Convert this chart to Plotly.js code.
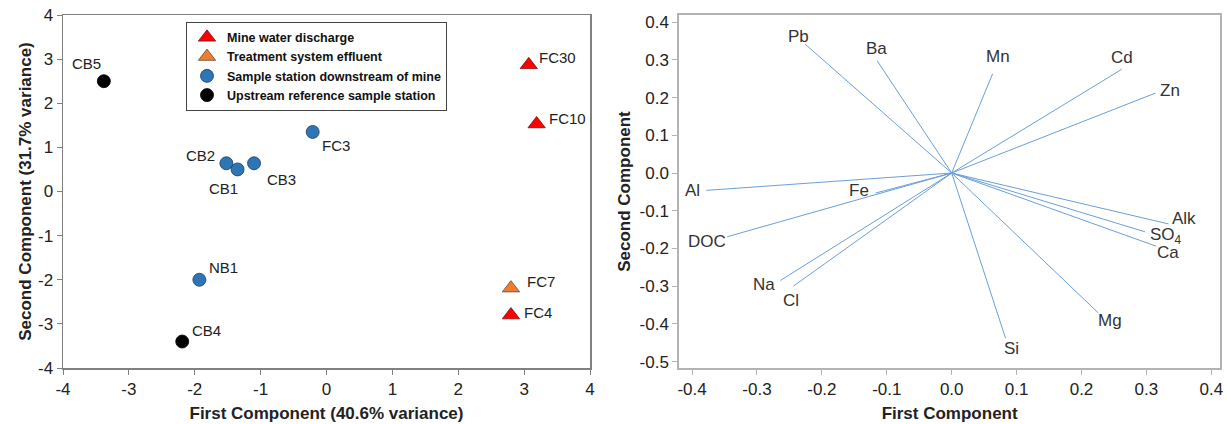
<!DOCTYPE html>
<html><head><meta charset="utf-8">
<script src="https://cdn.plot.ly/plotly-3.0.1.min.js"></script>
<style>html,body{margin:0;padding:0;background:#fff}#chart{width:1227px;height:424px}</style>
</head><body><div id="chart"></div>
<script>
// ---- Left panel: PCA scores ----
const groupNames = ['Mine water discharge', 'Treatment system effluent', 'Sample station downstream of mine', 'Upstream reference sample station'];
const mineNames = ['FC30', 'FC10', 'FC4'];
const mineX = [3.07, 3.19, 2.80];
const mineY = [2.87, 1.53, -2.80];
const effNames = ['FC7'];
const effX = [2.80];
const effY = [-2.19];
const downNames = ['CB2', 'CB1', 'CB3', 'FC3', 'NB1'];
const downX = [-1.52, -1.35, -1.10, -0.21, -1.93];
const downY = [0.64, 0.50, 0.64, 1.35, -2.00];
const upNames = ['CB5', 'CB4'];
const upX = [-3.38, -2.19];
const upY = [2.50, -3.40];

// ---- Right panel: loadings ----
const varNames = ['Pb', 'Ba', 'Mn', 'Cd', 'Zn', 'Al', 'Fe', 'DOC', 'Na', 'Cl', 'Alk', 'SO<sub>4</sub>', 'Ca', 'Mg', 'Si'];
const loadX = [-0.226, -0.115, 0.063, 0.262, 0.314, -0.378, -0.117, -0.346, -0.264, -0.244, 0.334, 0.298, 0.315, 0.226, 0.083];
const loadY = [0.342, 0.298, 0.263, 0.275, 0.212, -0.046, -0.053, -0.169, -0.285, -0.300, -0.135, -0.156, -0.194, -0.371, -0.438];

// ---- Tick labels ----
const leftTickVals = [-4, -3, -2, -1, 0, 1, 2, 3, 4];
const leftTickText = ['-4', '-3', '-2', '-1', '0', '1', '2', '3', '4'];
const rightXTickVals = [-0.4, -0.3, -0.2, -0.1, 0, 0.1, 0.2, 0.3, 0.4];
const rightXTickText = ['-0.4', '-0.3', '-0.2', '-0.1', '0.0', '0.1', '0.2', '0.3', '0.4'];
const rightYTickVals = [-0.5, -0.4, -0.3, -0.2, -0.1, 0, 0.1, 0.2, 0.3, 0.4];
const rightYTickText = ['-0.5', '-0.4', '-0.3', '-0.2', '-0.1', '0.0', '0.1', '0.2', '0.3', '0.4'];

// ---- styling (label offsets in px) ----
const FONT = 'Arial, "Liberation Sans", sans-serif';
const stationOffsets = {
  FC30: [29, 7], FC10: [31, 5], FC4: [27, 3], FC7: [30, 7],
  CB2: [-26, 8], CB1: [-14, -19], CB3: [27, -16], FC3: [23, -14], NB1: [24, 12],
  CB5: [-17, 18], CB4: [24, 11]
};
const varOffsets = {
  'Pb': [-7, 8], 'Ba': [-1, 12], 'Mn': [5, 17], 'Cd': [0, 12], 'Zn': [15, 3],
  'Al': [-14, 0], 'Fe': [-17, 3], 'DOC': [-20, -5], 'Na': [-16, -4], 'Cl': [-2, -14],
  'Alk': [16, 5], 'SO<sub>4</sub>': [21, -4], 'Ca': [12, -6], 'Mg': [12, -8], 'Si': [6, -10]
};

const traces = [
  {x: mineX, y: mineY, name: groupNames[0], mode: 'markers', type: 'scatter', xaxis: 'x', yaxis: 'y',
   marker: {symbol: 'triangle-up', size: 15, color: '#FF0000', line: {color: '#7a1010', width: 0.8}}},
  {x: effX, y: effY, name: groupNames[1], mode: 'markers', type: 'scatter', xaxis: 'x', yaxis: 'y',
   marker: {symbol: 'triangle-up', size: 15, color: '#ED7D31', line: {color: '#6b4a2e', width: 0.8}}},
  {x: downX, y: downY, name: groupNames[2], mode: 'markers', type: 'scatter', xaxis: 'x', yaxis: 'y',
   marker: {symbol: 'circle', size: 13, color: '#2E75B6', line: {color: '#1d3d5e', width: 0.8}}},
  {x: upX, y: upY, name: groupNames[3], mode: 'markers', type: 'scatter', xaxis: 'x', yaxis: 'y',
   marker: {symbol: 'circle', size: 13, color: '#000000', line: {color: '#000000', width: 0.8}}}
];

const vx = [], vy = [];
for (let i = 0; i < varNames.length; i++) { vx.push(0, loadX[i], null); vy.push(0, loadY[i], null); }
traces.push({x: vx, y: vy, mode: 'lines', type: 'scatter', xaxis: 'x2', yaxis: 'y2', showlegend: false,
  line: {color: '#6a9fd8', width: 1}, hoverinfo: 'skip'});

const annotations = [];
function addStations(names, xs, ys) {
  names.forEach((n, i) => {
    const o = stationOffsets[n];
    annotations.push({x: xs[i], y: ys[i], xref: 'x', yref: 'y', text: n, showarrow: false,
      xshift: o[0], yshift: o[1], font: {family: FONT, size: 15, color: '#222'}});
  });
}
addStations(mineNames, mineX, mineY);
addStations(effNames, effX, effY);
addStations(downNames, downX, downY);
addStations(upNames, upX, upY);
varNames.forEach((n, i) => {
  const o = varOffsets[n];
  annotations.push({x: loadX[i], y: loadY[i], xref: 'x2', yref: 'y2', text: n, showarrow: false,
    xshift: o[0], yshift: o[1], font: {family: FONT, size: 17, color: '#333'}});
});

const W = 1227;
const tickFont = {family: FONT, size: 17, color: '#222'};
const titleFont = {family: FONT, size: 17, color: '#222', weight: 'bold'};
const leftAxisCommon = {showgrid: false, zeroline: false, showline: true, mirror: true, linecolor: '#808080', linewidth: 1.5,
  ticks: 'outside', ticklen: 5, tickwidth: 1, tickcolor: '#808080', tickfont: tickFont, automargin: false};
const rightAxisCommon = {showgrid: false, zeroline: false, showline: true, mirror: true, linecolor: '#b3b3b3', linewidth: 2,
  ticks: 'outside', ticklen: 5, tickwidth: 1, tickcolor: '#b3b3b3', tickfont: tickFont, automargin: false};

const layout = {
  width: 1227, height: 424,
  margin: {l: 0, r: 0, t: 15, b: 56},
  paper_bgcolor: '#fff', plot_bgcolor: '#fff',
  font: {family: FONT},
  showlegend: true,
  legend: {x: 186 / W, xanchor: 'left', y: 0.981, yanchor: 'top', bgcolor: '#fff', bordercolor: '#444', borderwidth: 1,
    font: {family: FONT, size: 12.5, color: '#111', weight: 'bold'}, tracegroupgap: 0},
  xaxis: Object.assign({}, leftAxisCommon, {domain: [63 / W, 590 / W], range: [-4, 4], tickvals: leftTickVals, ticktext: leftTickText,
    anchor: 'y', title: {text: 'First Component (40.6% variance)', font: titleFont, standoff: 9}}),
  yaxis: Object.assign({}, leftAxisCommon, {domain: [0, 1], range: [-4, 4], tickvals: leftTickVals, ticktext: leftTickText,
    anchor: 'x', title: {text: 'Second Component (31.7% variance)', font: titleFont, standoff: 2}}),
  xaxis2: Object.assign({}, rightAxisCommon, {domain: [679.3 / W, 1220 / W], range: [-0.4197, 0.4134], tickvals: rightXTickVals, ticktext: rightXTickText,
    anchor: 'y2', title: {text: 'First Component', font: titleFont, standoff: 9}}),
  yaxis2: Object.assign({}, rightAxisCommon, {domain: [0, 1], range: [-0.517, 0.419], tickvals: rightYTickVals, ticktext: rightYTickText,
    anchor: 'x2', title: {text: 'Second Component', font: titleFont, standoff: 5}}),
  annotations: annotations
};

Plotly.newPlot('chart', traces, layout, {displayModeBar: false, staticPlot: true});
</script>
</body></html>
